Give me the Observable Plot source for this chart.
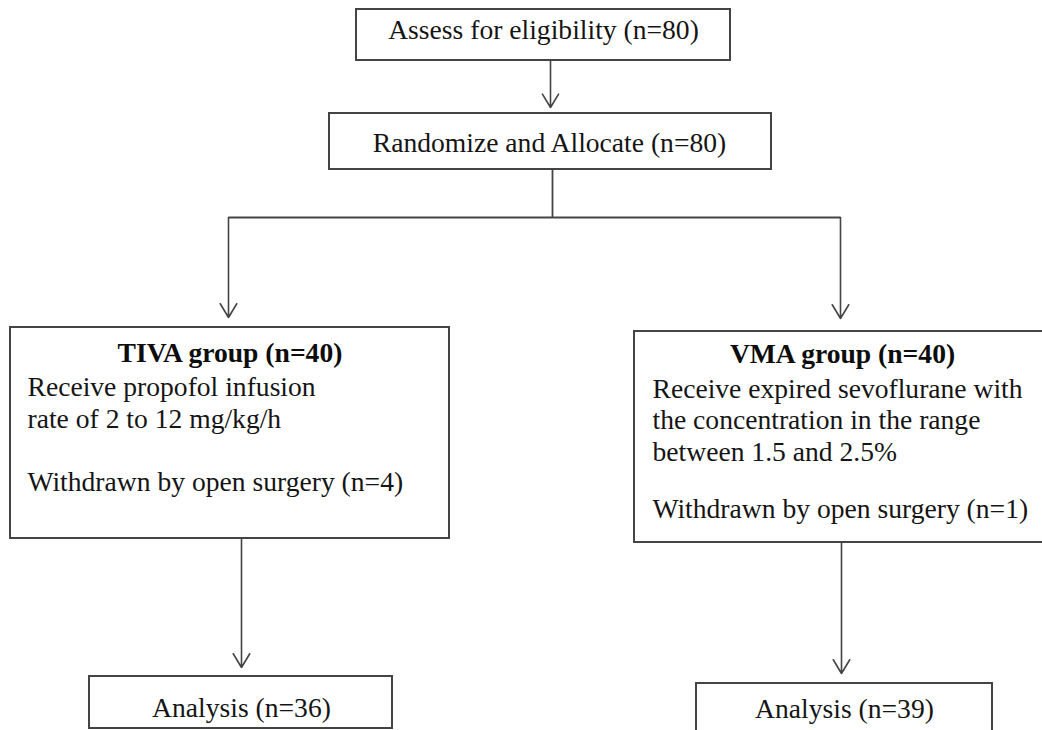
<!DOCTYPE html>
<html>
<head>
<meta charset="utf-8">
<script src="https://cdn.jsdelivr.net/npm/d3@7"></script>
<script src="https://cdn.jsdelivr.net/npm/@observablehq/plot@0.6"></script>
<style>
  html, body { margin: 0; padding: 0; background: #fff; overflow: hidden; }
  #chart { width: 1042px; height: 730px; }
</style>
</head>
<body>
<div id="chart"></div>
<script>
// ---- Data (flow of participants) ----
const stages = ["Assess for eligibility", "Randomize and Allocate"];
const stageN = [80, 80];
const groups = ["TIVA group", "VMA group"];
const groupN = [40, 40];
const protocolTIVA = ["Receive propofol infusion", "rate of 2 to 12 mg/kg/h"];
const protocolVMA = ["Receive expired sevoflurane with", "the concentration in the range", "between 1.5 and 2.5%"];
const withdrawnReason = "Withdrawn by open surgery";
const withdrawnN = [4, 1];
const analysisLabel = "Analysis";
const analysisN = [36, 39];

// ---- Layout (diagram geometry, kept apart from the data) ----
const layout = {
  boxes: [
    {x1: 356, x2: 730, y1: 9,   y2: 60},   // assess
    {x1: 329, x2: 771, y1: 113, y2: 169},  // randomize
    {x1: 10,  x2: 449, y1: 327, y2: 538},  // TIVA
    {x1: 634, x2: 1046, y1: 331, y2: 542}, // VMA
    {x1: 89,  x2: 392, y1: 676, y2: 728},  // analysis TIVA
    {x1: 696, x2: 992, y1: 683, y2: 736}   // analysis VMA
  ],
  lines: [
    {x1: 552, y1: 169, x2: 552, y2: 217},
    {x1: 228, y1: 217, x2: 840, y2: 217}
  ],
  arrows: [
    {x1: 550, y1: 60,  x2: 550, y2: 107},
    {x1: 228, y1: 217, x2: 228, y2: 317},
    {x1: 840, y1: 217, x2: 840, y2: 318},
    {x1: 241, y1: 538, x2: 241, y2: 667},
    {x1: 841, y1: 542, x2: 841, y2: 673}
  ],
  fontSize: 27.6
};

const fs = layout.fontSize;
const topDy = -Math.round(0.71 * fs); // place baseline at y

const centered = [
  {x: 543,   y: 39,  text: `${stages[0]} (n=${stageN[0]})`, weight: "normal"},
  {x: 549,   y: 152, text: `${stages[1]} (n=${stageN[1]})`, weight: "normal"},
  {x: 229.5, y: 362, text: `${groups[0]} (n=${groupN[0]})`, weight: "bold"},
  {x: 842,   y: 363, text: `${groups[1]} (n=${groupN[1]})`, weight: "bold"},
  {x: 241,   y: 717, text: `${analysisLabel} (n=${analysisN[0]})`, weight: "normal"},
  {x: 844,   y: 718, text: `${analysisLabel} (n=${analysisN[1]})`, weight: "normal"}
];

const leftBlocks = [
  {x: 27,  y: 393, lh: 1.15, text: [...protocolTIVA, "", `${withdrawnReason} (n=${withdrawnN[0]})`].join("\n")},
  {x: 652, y: 395, lh: 1.142, text: protocolVMA.join("\n")},
  {x: 652, y: 515, lh: 1.142, text: `${withdrawnReason} (n=${withdrawnN[1]})`}
];

const stroke = "#444";
const ink = "#151515";
const font = "'Liberation Serif', 'Times New Roman', serif";

const chart = Plot.plot({
  width: 1042,
  height: 730,
  margin: 0,
  x: {domain: [0, 1042], range: [0, 1042], axis: null},
  y: {domain: [0, 730], range: [0, 730], axis: null},
  style: {background: "white", fontFamily: font},
  marks: [
    Plot.rect(layout.boxes, {x1: "x1", x2: "x2", y1: "y1", y2: "y2", fill: "white", stroke, strokeWidth: 2}),
    Plot.link(layout.lines, {x1: "x1", y1: "y1", x2: "x2", y2: "y2", stroke, strokeWidth: 1.8}),
    Plot.arrow(layout.arrows, {x1: "x1", y1: "y1", x2: "x2", y2: "y2", stroke, strokeWidth: 1.6, headLength: 15, headAngle: 62}),
    Plot.text(centered.filter(d => d.weight === "normal"), {x: "x", y: "y", text: "text", fontSize: fs, fontFamily: font, fill: ink, textAnchor: "middle", lineAnchor: "top", dy: topDy}),
    Plot.text(centered.filter(d => d.weight === "bold"), {x: "x", y: "y", text: "text", fontSize: fs, fontFamily: font, fontWeight: "bold", fill: "#0d0d0d", textAnchor: "middle", lineAnchor: "top", dy: topDy}),
    Plot.text(leftBlocks.slice(0, 1), {x: "x", y: "y", text: "text", fontSize: fs, fontFamily: font, fill: ink, textAnchor: "start", lineAnchor: "top", lineHeight: leftBlocks[0].lh, dy: topDy}),
    Plot.text(leftBlocks.slice(1), {x: "x", y: "y", text: "text", fontSize: fs, fontFamily: font, fill: ink, textAnchor: "start", lineAnchor: "top", lineHeight: leftBlocks[1].lh, dy: topDy})
  ]
});

document.getElementById("chart").appendChild(chart);
</script>
</body>
</html>
